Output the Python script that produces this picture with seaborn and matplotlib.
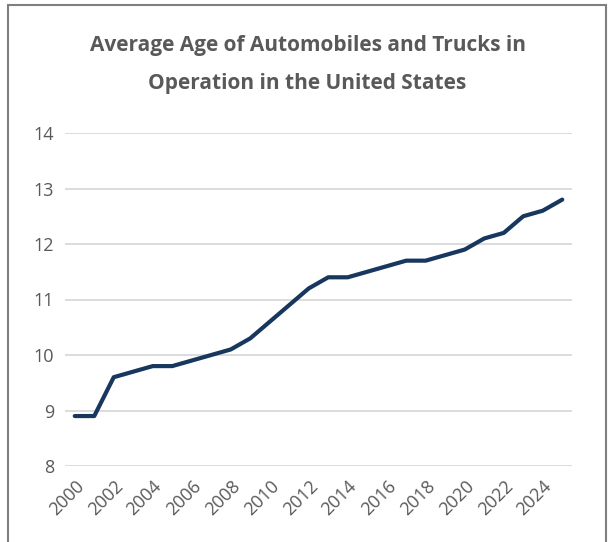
import matplotlib
matplotlib.use("Agg")
import matplotlib.pyplot as plt
import seaborn as sns
import pandas as pd
from matplotlib.patches import Rectangle
from matplotlib.transforms import ScaledTranslation

# Data
years = list(range(2000, 2026))
avg_age = [8.9, 8.9, 9.6, 9.7, 9.8, 9.8, 9.9, 10.0, 10.1, 10.3,
           10.6, 10.9, 11.2, 11.4, 11.4, 11.5, 11.6, 11.7, 11.7, 11.8,
           11.9, 12.1, 12.2, 12.5, 12.6, 12.8]
y_ticks = [8, 9, 10, 11, 12, 13, 14]

df = pd.DataFrame({"pos": range(len(years)), "year": years, "age": avg_age})

sns.set_theme(style="white")
plt.rcParams['font.family'] = ['Open Sans', 'DejaVu Sans']

fig = plt.figure(figsize=(6.09, 5.42), dpi=100)
ax = fig.add_axes([65 / 609, 1 - 466 / 542, (572 - 65) / 609, (466 - 133) / 542])

sns.lineplot(data=df, x="pos", y="age", ax=ax, color="#17375E", linewidth=3.0)

ax.set_xlim(-0.5, len(years) - 0.5)
ax.set_ylim(8, 14)
ax.set_yticks(y_ticks)
ax.set_yticklabels([str(t) for t in y_ticks])
ax.grid(axis="y", color="#d9d9d9", linewidth=1.3)
ax.set_axisbelow(True)
for s in ax.spines.values():
    s.set_visible(False)

xt = [i for i, y in enumerate(years) if y % 2 == 0]
ax.set_xticks(xt)
ax.set_xticklabels([str(years[i]) for i in xt], rotation=45, ha="right",
                   rotation_mode="anchor")
offset = ScaledTranslation(10 / 100, 0, fig.dpi_scale_trans)
for lab in ax.get_xticklabels():
    lab.set_transform(lab.get_transform() + offset)

ax.tick_params(axis="both", length=0, colors="#595959", labelsize=13)
ax.tick_params(axis="y", pad=8)
ax.tick_params(axis="x", pad=8)
ax.set_xlabel("")
ax.set_ylabel("")

fig.text(0.505, 1 - 45 / 542, "Average Age of Automobiles and Trucks in",
         ha="center", va="center", fontsize=15, fontweight="bold", color="#595959")
fig.text(0.505, 1 - 83 / 542, "Operation in the United States",
         ha="center", va="center", fontsize=15, fontweight="bold", color="#595959")

# chart area border
fig.patches.append(Rectangle((8 / 609, -0.05), (606 - 8) / 609, 1.05 - 5 / 542,
                             transform=fig.transFigure, fill=False,
                             edgecolor="#7f7f7f", linewidth=1.5))

fig.savefig("out.png", dpi=100)
